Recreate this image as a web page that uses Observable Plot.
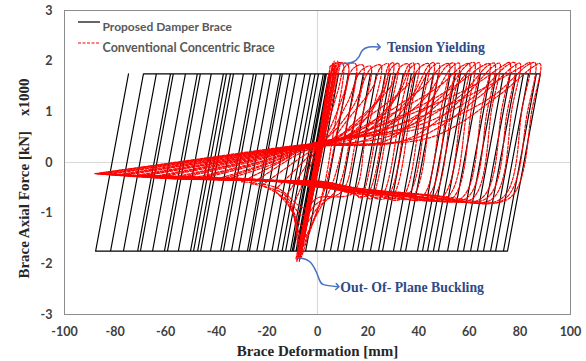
<!DOCTYPE html>
<html><head><meta charset="utf-8">
<script src="https://cdn.jsdelivr.net/npm/d3@7"></script>
<script src="https://cdn.jsdelivr.net/npm/@observablehq/plot@0.6"></script>
<style>
html,body{margin:0;padding:0;background:#fff;}
#chart{width:586px;height:361px;}
</style></head><body><div id="chart"></div>
<script>
// ---- axis ticks & labels ----
const xTicks = [-100, -80, -60, -40, -20, 0, 20, 40, 60, 80, 100];
const yTicks = [-3, -2, -1, 0, 1, 2, 3];
const xTitle = "Brace Deformation [mm]";
const yTitle = "Brace Axial Force [kN]\u00a0\u00a0\u00a0\u00a0x1000";
const legendLabels = ["Proposed Damper Brace", "Conventional Concentric Brace"];

// ---- Proposed Damper Brace (black): loop corners, force in kN x1000 ----
const damperForce = 1.75;
const blackTension = [5.1, 8.3, 12.2, 15.4, 18.1, 20.9, 23.3, 26.8, 28.8, 30.8, 33.9, 37.1, 38.7, 43, 45.8, 47.8, 52.5, 54.5, 56.5, 58.8, 60.8, 64.4, 68.3, 70.7, 73.5, 76.2, 78.6, 81.4, 83.4, 86.5, 88.1];
const blackUnload = [-7.9, -4.7, -0.8, 2.4, 5.1, 7.9, 10.3, 13.8, 15.8, 17.8, 20.9, 24.1, 25.7, 30, 32.8, 34.8, 39.5, 41.5, 43.5, 45.8, 47.8, 51.4, 55.3, 57.7, 60.5, 63.2, 65.6, 68.4, 70.4, 73.5, 75.1];
const blackCompression = [-8, -8.5, -9.5, -10, -10.7, -12.6, -14, -15.8, -18, -21.3, -24, -26.9, -27.7, -31.2, -34, -37.2, -38.3, -42.3, -46.2, -47.4, -49, -50.2, -55, -59.3, -60.5, -65.2, -70, -71.1, -76.7, -81.8, -87.7];
const blackReload = [5, 4.5, 3.5, 3, 2.3, 0.4, -1, -2.8, -5, -8.3, -11, -13.9, -14.7, -18.2, -21, -24.2, -25.3, -29.3, -33.2, -34.4, -36, -37.2, -42, -46.3, -47.5, -52.2, -57, -58.1, -63.7, -68.8, -74.7];

// ---- Conventional Concentric Brace (red dashed): loops as [deformation, force] ----
const redElastic = [
  [[-8,-1.92],[-0.5,0.1],[5,1.9]],
  [[-7,-1.88],[0,0.05],[6,1.95]],
  [[-6.5,-1.8],[1,0.15],[7,1.97]],
  [[-7.5,-1.85],[0.5,0.2],[8,2.0]],
  [[-6,-1.7],[0.8,0.05],[6.5,1.9]],
  [[-5.5,-1.5],[1.5,0.2],[9,1.95]],
  [[-8.5,-1.9],[-1,0],[4.5,1.75]],
  [[-5,-1.3],[1,0],[7.5,1.85]],
  [[-7.2,-1.95],[-0.2,0.05],[6.2,1.98]],
  [[-6.8,-1.9],[0.3,0.1],[7.2,1.93]],
  [[-7.8,-1.9],[-0.8,0.0],[5.5,1.85]],
  [[-6.2,-1.75],[0.6,0.1],[8.5,1.97]],
  [[-7.3,-1.9],[0,0.2],[7,1.9]],
  [[-5.8,-1.6],[0.5,-0.05],[6.8,1.8]],
  [[-6.6,-1.82],[0.2,0.0],[5.8,1.9]],
  [[-8.2,-1.95],[-0.6,0.15],[6.6,2.0]]
];
const redBuckling = [
  [[5,1.9],[8,1.97],[10,1.95],[6,0.5],[2,-0.6],[-4,-1.5],[-7,-1.9],[-8.5,-1.3],[-10,-0.9]],
  [[-10,-0.9],[-4,-0.2],[2,0.5],[6,1.4],[9,1.95],[12,1.93],[8,0.7],[3,-0.5],[-3,-1.3],[-6.5,-1.7],[-9,-1.1],[-13,-0.7]],
  [[-13,-0.7],[-5,-0.1],[2,0.5],[8,1.4],[11,1.9],[15,1.95],[11,0.6],[6,-0.4],[0,-1.0],[-6,-1.5],[-10,-0.95],[-17,-0.55]],
  [[-17,-0.55],[-6,0.0],[3,0.5],[10,1.3],[14,1.85],[18,1.92],[13,0.5],[8,-0.5],[0,-0.9],[-6,-1.25],[-12,-0.75],[-22,-0.45]],
  [[-22,-0.45],[-8,0.05],[3,0.45],[12,1.2],[17,1.8],[21,1.9],[15,0.4],[10,-0.55],[0,-0.8],[-5.5,-1.05],[-14,-0.6],[-26,-0.42]],
  [[-26,-0.42],[-10,0.1],[3,0.45],[14,1.1],[21,1.85],[25,1.92],[19,0.5],[14,-0.6],[0,-0.7],[-5,-0.9],[-16,-0.5],[-30,-0.38]]
];
const redPostBuckling = [
  [[-30,-0.38],[-15,0.0],[-7,0.22],[3,0.32],[12,0.85],[22,1.5],[25,1.88],[28,1.95],[25,1.1],[17,-0.7],[15,-0.62],[7,-0.52],[3,-0.4],[-10,-0.36],[-20,-0.34],[-34,-0.3]],
  [[-34,-0.3],[-16,0.0],[-7,0.24],[3,0.34],[14,0.6],[26,1.4],[29,1.85],[32,1.96],[29,1.1],[21,-0.72],[18,-0.6],[8,-0.5],[3,-0.45],[-10,-0.38],[-23,-0.34],[-38,-0.3]],
  [[-38,-0.3],[-18,0.02],[-7,0.26],[3,0.33],[16,0.85],[29,1.5],[33,1.9],[36,1.94],[33,1.1],[25,-0.68],[20,-0.64],[9,-0.55],[3,-0.42],[-12,-0.37],[-26,-0.35],[-43,-0.28]],
  [[-43,-0.28],[-20,0.02],[-7,0.27],[3,0.35],[18,0.55],[32,1.35],[37,1.88],[40,1.95],[37,1.1],[29,-0.7],[22,-0.6],[10,-0.48],[3,-0.38],[-12,-0.36],[-28,-0.34],[-47,-0.28]],
  [[-47,-0.28],[-22,0.03],[-7,0.28],[3,0.36],[20,0.9],[35,1.5],[41,1.9],[44,1.95],[41,1.1],[33,-0.72],[24,-0.66],[11,-0.58],[3,-0.46],[-14,-0.37],[-31,-0.34],[-51,-0.27]],
  [[-51,-0.27],[-24,0.04],[-7,0.29],[3,0.34],[22,0.5],[38,1.3],[45,1.87],[48,1.96],[45,1.1],[37,-0.7],[26,-0.62],[12,-0.52],[3,-0.4],[-14,-0.37],[-33,-0.34],[-55,-0.27]],
  [[-55,-0.27],[-26,0.05],[-7,0.3],[3,0.36],[23,0.85],[42,1.5],[49,1.9],[52,1.95],[49,1.1],[41,-0.7],[29,-0.65],[13,-0.55],[3,-0.44],[-15,-0.37],[-35,-0.33],[-59,-0.26]],
  [[-59,-0.26],[-28,0.05],[-7,0.3],[3,0.33],[28,0.45],[45,1.25],[53,1.88],[56,1.96],[53,1.1],[45,-0.72],[31,-0.6],[14,-0.5],[3,-0.38],[-15,-0.36],[-38,-0.33],[-63,-0.26]],
  [[-63,-0.26],[-30,0.06],[-7,0.31],[3,0.36],[27,0.9],[48,1.5],[57,1.9],[60,1.95],[57,1.1],[49,-0.7],[33,-0.66],[15,-0.57],[3,-0.45],[-16,-0.37],[-40,-0.33],[-67,-0.25]],
  [[-67,-0.25],[-32,0.06],[-7,0.31],[3,0.35],[30,0.55],[51,1.3],[61,1.88],[64,1.97],[61,1.1],[53,-0.72],[35,-0.62],[16,-0.52],[3,-0.4],[-16,-0.37],[-42,-0.33],[-71,-0.25]],
  [[-71,-0.25],[-34,0.07],[-7,0.32],[3,0.36],[30,0.85],[54,1.5],[65,1.9],[68,1.95],[65,1.1],[57,-0.7],[37,-0.67],[17,-0.58],[3,-0.46],[-17,-0.37],[-45,-0.33],[-75,-0.24]],
  [[-75,-0.24],[-36,0.07],[-7,0.32],[3,0.34],[35,0.45],[58,1.3],[69,1.88],[72,1.96],[69,1.1],[61,-0.72],[40,-0.62],[18,-0.52],[3,-0.4],[-17,-0.36],[-47,-0.32],[-79,-0.24]],
  [[-79,-0.24],[-38,0.08],[-7,0.33],[3,0.37],[34,0.9],[61,1.5],[73,1.9],[76,1.97],[73,1.1],[65,-0.7],[42,-0.68],[19,-0.6],[3,-0.47],[-18,-0.37],[-50,-0.32],[-82,-0.23]],
  [[-82,-0.23],[-40,0.08],[-7,0.33],[3,0.35],[40,0.5],[64,1.3],[77,1.88],[80,1.96],[77,1.1],[69,-0.72],[44,-0.64],[20,-0.54],[3,-0.42],[-18,-0.36],[-52,-0.32],[-85,-0.22]],
  [[-85,-0.22],[-42,0.09],[-7,0.34],[3,0.37],[38,0.85],[67,1.5],[81,1.9],[84,1.97],[81,1.1],[73,-0.7],[46,-0.7],[21,-0.6],[3,-0.48],[-19,-0.36],[-55,-0.32],[-87,-0.22]],
  [[-87,-0.22],[-44,0.09],[-7,0.34],[3,0.36],[45,0.5],[71,1.3],[85,1.88],[88,1.95],[85,1.1],[76,-0.7],[48,-0.66],[22,-0.56],[3,-0.44],[-20,-0.36],[-58,-0.32],[-88,-0.22]]
];
const redRepeat = [
  [[-36,-0.3],[-17,0.02],[-7,0.25],[3,0.4],[15,0.75],[25,1.35],[28,1.9],[30,1.97],[27,1.0],[19,-0.66],[12,-0.58],[3,-0.5],[-11,-0.37],[-24,-0.35],[-36,-0.3]],
  [[-45,-0.28],[-21,0.03],[-7,0.27],[3,0.38],[19,0.7],[31,1.3],[36,1.92],[38,1.96],[35,1.0],[27,-0.7],[17,-0.6],[3,-0.48],[-13,-0.37],[-29,-0.35],[-45,-0.28]],
  [[-53,-0.27],[-25,0.05],[-7,0.29],[3,0.4],[23,0.72],[37,1.3],[44,1.92],[46,1.97],[43,1.0],[35,-0.68],[22,-0.61],[3,-0.49],[-14,-0.37],[-33,-0.34],[-53,-0.27]],
  [[-61,-0.26],[-29,0.06],[-7,0.3],[3,0.41],[27,0.7],[43,1.3],[51,1.9],[54,1.96],[51,1.0],[43,-0.7],[27,-0.63],[3,-0.5],[-15,-0.37],[-38,-0.34],[-61,-0.26]],
  [[-69,-0.25],[-33,0.06],[-7,0.31],[3,0.42],[31,0.72],[49,1.3],[59,1.92],[62,1.97],[59,1.0],[51,-0.7],[31,-0.62],[3,-0.5],[-16,-0.37],[-43,-0.33],[-69,-0.25]],
  [[-77,-0.24],[-37,0.07],[-7,0.32],[3,0.42],[35,0.7],[56,1.3],[67,1.9],[70,1.96],[67,1.0],[59,-0.7],[35,-0.64],[3,-0.5],[-17,-0.37],[-48,-0.33],[-77,-0.24]],
  [[-84,-0.23],[-41,0.08],[-7,0.33],[3,0.43],[39,0.72],[62,1.3],[75,1.92],[78,1.97],[75,1.0],[67,-0.7],[39,-0.63],[3,-0.5],[-18,-0.36],[-53,-0.32],[-84,-0.23]],
  [[-88,-0.22],[-44,0.08],[-7,0.33],[3,0.43],[43,0.7],[69,1.3],[83,1.92],[86,1.97],[83,1.0],[74,-0.72],[43,-0.64],[3,-0.5],[-19,-0.36],[-56,-0.32],[-88,-0.22]]
];

// ---- annotations (data coordinates) ----
const annotationLabels = [
  {x: 27.5, y: 2.26, text: "Tension Yielding"},
  {x: 9.0, y: -2.47, text: "Out- Of- Plane Buckling"}
];
const arrowTension = [[9.1,1.95],[13.7,1.98],[16.3,2.08],[17.7,2.21],[20.3,2.28],[24.2,2.28]];
const arrowBuckling = [[-7.9,-1.875],[-2.8,-1.97],[0.4,-2.27],[2.4,-2.41],[7.9,-2.45]];

// ---- build tables ----
const blackTable = [];
blackTension.forEach((t, i) => {
  blackTable.push({x: t, y: damperForce});
  blackTable.push({x: blackUnload[i], y: -damperForce});
  blackTable.push({x: blackCompression[i], y: -damperForce});
  blackTable.push({x: blackReload[i], y: damperForce});
});
const redLoops = [...redElastic, ...redBuckling, ...redPostBuckling, ...redRepeat];
const redTable = redLoops.flatMap((loop, i) => loop.map(([x, y]) => ({x, y, loop: i})));
const toXY = (arr, id) => arr.map(([x, y]) => ({x, y, id}));
const arrowTable = [...toXY(arrowTension, "t"), ...toXY(arrowBuckling, "b")];

const serif = "'Liberation Serif', 'Times New Roman', serif";
const fmt = d => String(d);
const plot = Plot.plot({
  width: 586, height: 361,
  marginLeft: 64, marginRight: 16, marginTop: 10, marginBottom: 47,
  x: {domain: [-100, 100]},
  y: {domain: [-3, 3]},
  style: {fontFamily: "Lato, sans-serif", background: "#fff"},
  marks: [
    Plot.ruleY([0], {stroke: "#d9d9d9", strokeWidth: 1.2}),
    Plot.ruleX([0], {stroke: "#d9d9d9", strokeWidth: 1.2}),
    Plot.line(blackTable, {x: "x", y: "y", stroke: "#000", strokeWidth: 1.15}),
    Plot.line(redTable, {x: "x", y: "y", z: "loop", stroke: "#ff0000", strokeWidth: 1.2, strokeDasharray: "3,1.5", curve: "catmull-rom"}),
    Plot.frame({stroke: "#8c8c8c"}),
    Plot.axisX(xTicks, {tickSize: 0, tickPadding: 13, tickFormat: fmt, fontSize: 12.5, fontWeight: "bold", fill: "#404040", label: null}),
    Plot.axisY(yTicks, {tickSize: 0, tickPadding: 12, tickFormat: fmt, fontSize: 12.5, fontWeight: "bold", fill: "#404040", label: null}),
    Plot.text([xTitle], {text: d => d, frameAnchor: "bottom", dy: 41, fontFamily: serif, fontWeight: "bold", fontSize: 15, fill: "#262626"}),
    Plot.text([yTitle], {text: d => d, frameAnchor: "left", textAnchor: "middle", rotate: -90, dx: -40, dy: 16, fontFamily: serif, fontWeight: "bold", fontSize: 15, fill: "#262626"}),
    Plot.text([legendLabels[0]], {text: d => d, frameAnchor: "top-left", dx: 38, dy: 12, textAnchor: "start", fontSize: 12, fontWeight: "bold", fill: "#595959"}),
    Plot.text([legendLabels[1]], {text: d => d, frameAnchor: "top-left", dx: 38, dy: 33, textAnchor: "start", fontSize: 12.5, fontWeight: "bold", fill: "#595959"}),
    Plot.line(arrowTable, {x: "x", y: "y", z: "id", curve: "natural", stroke: "#4472C4", strokeWidth: 1.5, markerEnd: "arrow"}),
    Plot.text(annotationLabels, {x: "x", y: "y", text: "text", textAnchor: "start", fontFamily: serif, fontWeight: "bold", fontSize: 13.8, fill: "#2E4A87"})
  ]
});
document.getElementById("chart").appendChild(plot);

// legend swatches placed relative to the plot frame
const svgSel = d3.select(plot);
const frameLeft = 64, frameTop = 10;
svgSel.append("line").attr("x1", frameLeft + 14).attr("x2", frameLeft + 36).attr("y1", frameTop + 12).attr("y2", frameTop + 12)
  .attr("stroke", "#000").attr("stroke-width", 1.2);
svgSel.append("line").attr("x1", frameLeft + 14).attr("x2", frameLeft + 36).attr("y1", frameTop + 33).attr("y2", frameTop + 33)
  .attr("stroke", "#ff0000").attr("stroke-width", 1.2).attr("stroke-dasharray", "3,1.5");
</script></body></html>
